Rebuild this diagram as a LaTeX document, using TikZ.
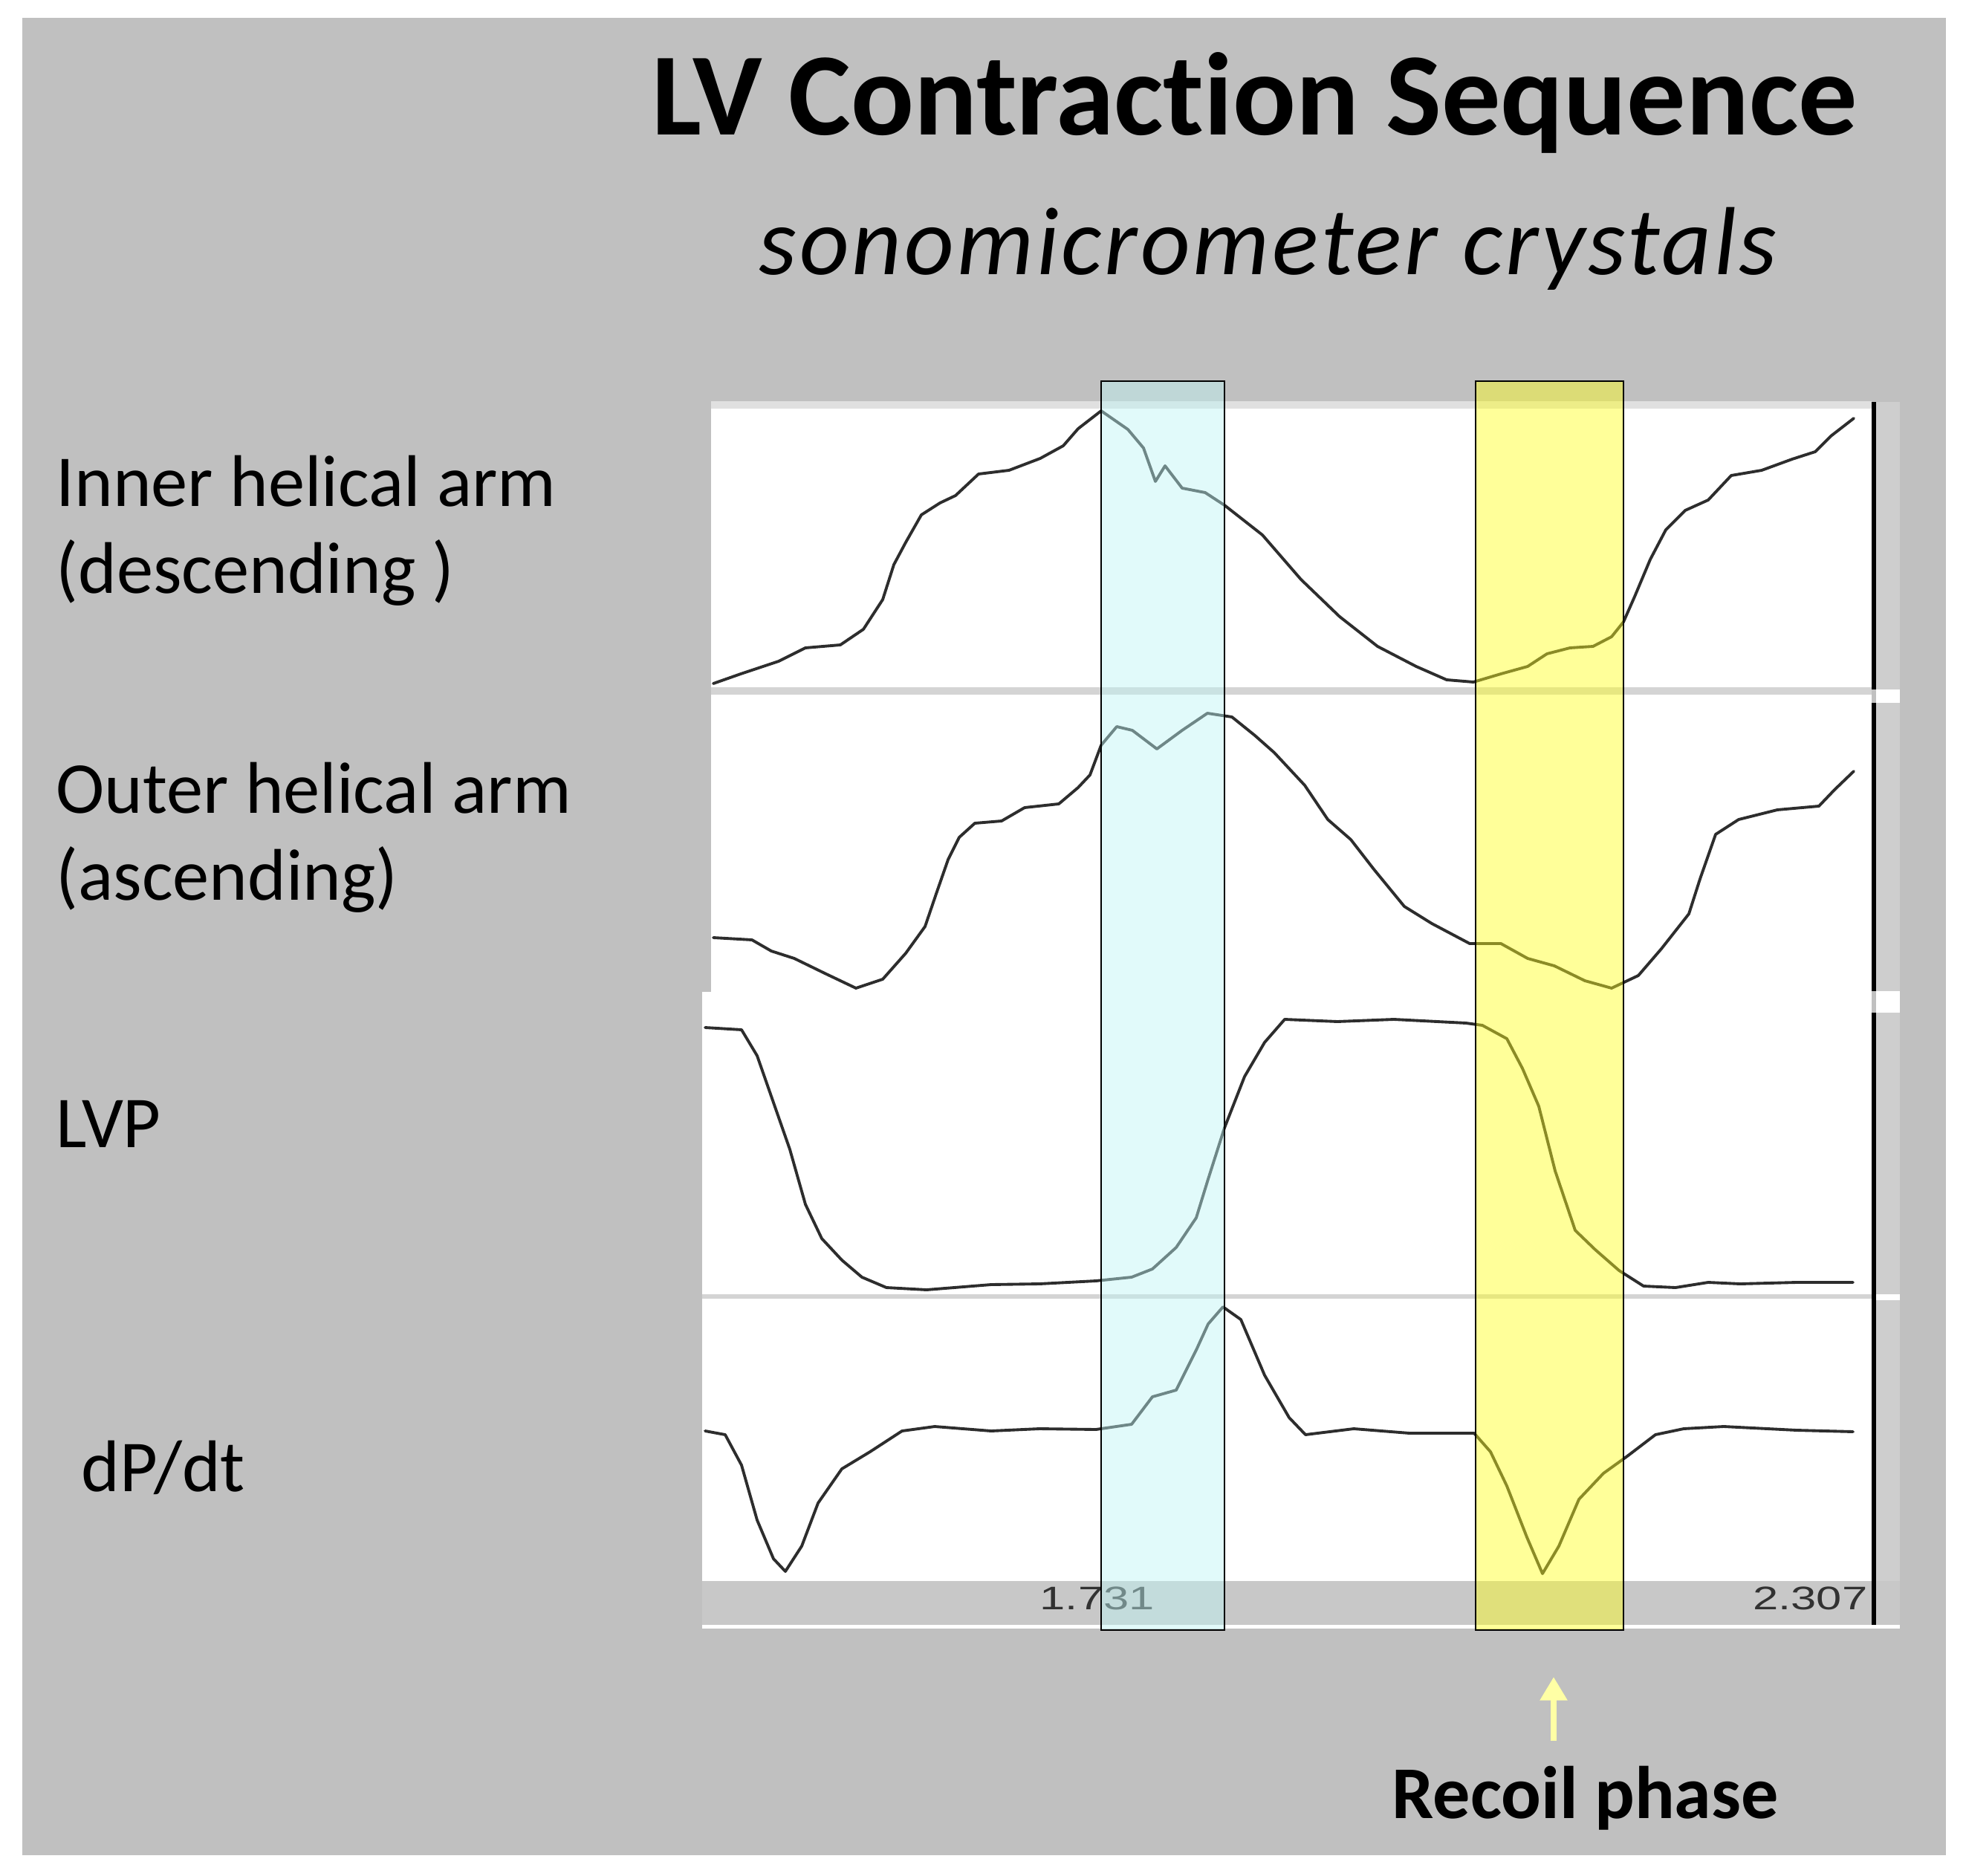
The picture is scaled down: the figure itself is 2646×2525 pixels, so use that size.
\documentclass[tikz,border=0pt]{standalone}
\usepackage{fontspec}
\setmainfont{Carlito}[Ligatures=NoCommon]
\newfontfamily\axisfont{Liberation Sans}
\usepackage{tikz}
\usetikzlibrary{arrows.meta, positioning}

\definecolor{bggray}{RGB}{192,192,192}
\definecolor{toplight}{RGB}{224,224,224}
\definecolor{sepgray}{RGB}{212,212,212}
\definecolor{stripgray}{RGB}{200,200,200}
\definecolor{sidegray}{RGB}{206,206,206}
\definecolor{tracegray}{RGB}{45,45,45}
\definecolor{axistext}{RGB}{50,50,50}
\definecolor{bandblue}{RGB}{190,245,245}
\definecolor{bandyellow}{RGB}{255,255,30}
\definecolor{paleyellow}{RGB}{255,255,165}

\begin{document}
\begin{tikzpicture}[x=0.01cm, y=-0.01cm,
      trace/.style={draw=tracegray, line width=1.1pt, line join=round, line cap=round},
      band/.style={draw=black, line width=0.8pt, fill opacity=0.45},
      lbl/.style={font=\fontsize{28}{34}\selectfont, anchor=base west, inner sep=0pt},
      axislbl/.style={font=\axisfont\fontsize{12.5}{15}\selectfont, text=axistext, inner sep=0pt}]

      \useasboundingbox (0,0) rectangle (2646,2525);
      \fill[bggray] (30,24) rectangle (2619,2497);

      % Title
      \node[anchor=base west, inner sep=0pt, font=\fontsize{45}{54}\selectfont\bfseries] (title) at (877,182) {LV Contraction Sequence};
      \node[anchor=base west, inner sep=0pt, font=\fontsize{37}{44}\selectfont\itshape\addfontfeatures{LetterSpace=3}] (subtitle) at (1021,370) {sonomicrometer crystals};

      % Chart panels
      \fill[toplight] (957,540) rectangle (2519,550);
      \fill[white] (957,550) rectangle (2519,925);
      \fill[sepgray] (957,925) rectangle (2519,935);
      \fill[white] (957,935) rectangle (2519,1335);
      \fill[white] (945,1335) rectangle (2519,1742);
      \fill[sepgray] (945,1742) rectangle (2519,1748);
      \fill[white] (945,1748) rectangle (2519,2128);
      \fill[stripgray] (945,2128) rectangle (2557,2187);
      \fill[white] (945,2187) rectangle (2557,2192);

      % Right edge
      \fill[sidegray] (2525,541) rectangle (2557,2128);
      \fill[black] (2519,541) rectangle (2525,928);
      \fill[black] (2519,946) rectangle (2525,1334);
      \fill[black] (2519,1363) rectangle (2525,2187);
      \foreach \ya/\yb in {928/946, 1334/1363, 1742/1750} {
        \fill[white] (2525,\ya) rectangle (2557,\yb);
      }

      % Traces
      \draw[trace] plot coordinates {(960,920) (997,907) (1048,890) (1084,872) (1131,868) (1162,847) (1188,807) (1203,760) (1219,730) (1240,693) (1265,677) (1286,667) (1317,638) (1358,633) (1400,617) (1431,600) (1451,577) (1482,553) (1518,578) (1539,603) (1555,648) (1568,627) (1591,657) (1622,663) (1648,680) (1699,720) (1751,780) (1803,830) (1854,870) (1906,897) (1947,915) (1983,918) (2020,907) (2056,897) (2082,880) (2113,872) (2144,870) (2169,857) (2185,837) (2200,803) (2221,753) (2242,713) (2268,687) (2299,673) (2330,640) (2371,633) (2412,618) (2443,608) (2464,587) (2495,563)};

      \draw[trace] plot coordinates {(960,1262) (1012,1265) (1038,1280) (1069,1290) (1110,1310) (1152,1330) (1188,1318) (1219,1283) (1245,1247) (1260,1203) (1276,1157) (1291,1127) (1312,1108) (1348,1105) (1379,1087) (1425,1082) (1451,1060) (1467,1043) (1482,1003) (1503,978) (1524,983) (1557,1008) (1591,983) (1625,960) (1658,965) (1689,990) (1715,1013) (1756,1057) (1787,1103) (1818,1130) (1849,1170) (1890,1220) (1927,1243) (1978,1270) (2020,1270) (2056,1290) (2092,1300) (2133,1320) (2169,1330) (2205,1313) (2236,1277) (2273,1230) (2288,1183) (2309,1123) (2340,1103) (2392,1090) (2448,1085) (2469,1063) (2495,1038)};

      \draw[trace] plot coordinates {(949,1383) (998,1386) (1019,1421) (1041,1484) (1063,1547) (1084,1621) (1106,1667) (1133,1696) (1160,1719) (1193,1733) (1247,1736) (1334,1729) (1399,1728) (1475,1724) (1523,1719) (1551,1708) (1583,1679) (1610,1639) (1626,1587) (1648,1518) (1675,1449) (1702,1403) (1729,1372) (1800,1375) (1876,1372) (1973,1377) (1995,1380) (2028,1398) (2049,1438) (2071,1489) (2093,1576) (2120,1656) (2147,1682) (2179,1710) (2212,1731) (2255,1733) (2299,1726) (2342,1728) (2418,1726) (2494,1726)};

      \draw[trace] plot coordinates {(949,1926) (976,1931) (998,1972) (1019,2046) (1041,2098) (1057,2115) (1079,2081) (1101,2023) (1133,1977) (1171,1954) (1214,1926) (1258,1920) (1334,1926) (1399,1923) (1475,1924) (1523,1917) (1551,1880) (1583,1871) (1610,1817) (1626,1782) (1646,1759) (1670,1776) (1702,1851) (1735,1908) (1757,1931) (1822,1923) (1897,1929) (1984,1929) (2006,1954) (2028,2000) (2055,2069) (2076,2118) (2098,2081) (2125,2018) (2158,1983) (2190,1960) (2228,1931) (2266,1923) (2320,1920) (2418,1925) (2494,1927)};

      % Time axis
      \node[axislbl, anchor=base west] (tstart) at (1399,2166) {\scalebox{1.4}[1]{1.731}};
      \node[axislbl, anchor=base east] (tend) at (2514,2166) {\scalebox{1.4}[1]{2.307}};

      % Highlight bands
      \draw[band, fill=bandblue] (1482,513) rectangle (1648,2194);
      \draw[band, fill=bandyellow] (1986,513) rectangle (2185,2194);

      % Row labels
      \node[lbl] (inner1) at (75,682) {Inner helical arm};
      \node[lbl] (inner2) at (75,799) {(descending )};
      \node[lbl] (outer1) at (75,1094) {Outer helical arm};
      \node[lbl] (outer2) at (75,1211) {(ascending)};
      \node[lbl] (lvp) at (75,1544) {LVP};
      \node[lbl] (dpdt) at (109,2007) {dP/dt};

      % Recoil annotation
      \node[anchor=base west, inner sep=0pt, font=\fontsize{28.5}{34}\selectfont\bfseries] (recoil) at (1873,2447) {Recoil phase};
      \coordinate (arrowtail) at (2091,2343);
      \coordinate (arrowtip) at (2091,2257);
      \draw[-{Triangle[width=10pt, length=9pt]}, draw=paleyellow, fill=paleyellow, line width=2.4pt] (arrowtail) -- (arrowtip);
    \end{tikzpicture}
\end{document}
